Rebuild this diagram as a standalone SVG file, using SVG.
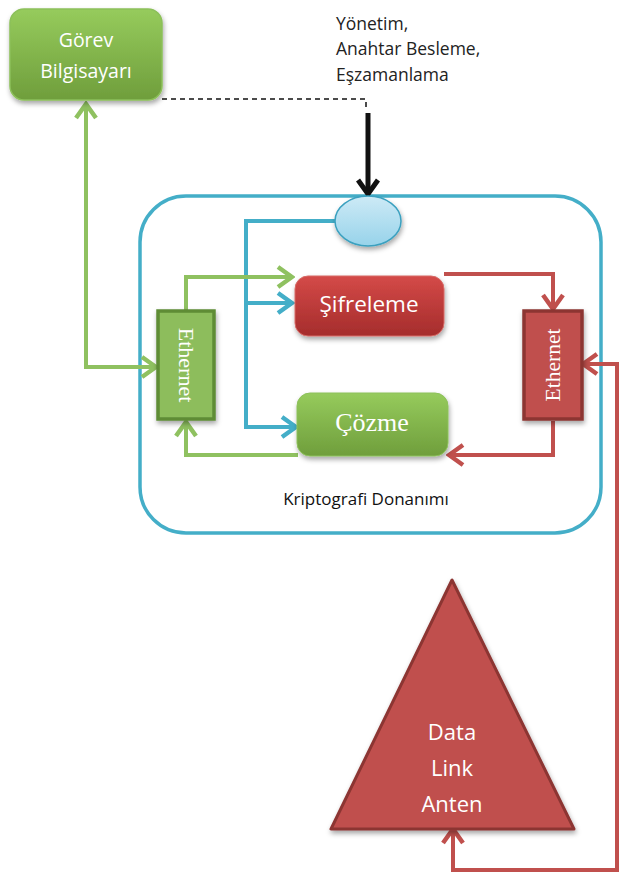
<svg xmlns="http://www.w3.org/2000/svg" width="621" height="880" viewBox="0 0 621 880">
<style>
.sans{font-family:"Open Sans","Noto Sans","Liberation Sans",sans-serif}
.serif{font-family:"Liberation Serif","DejaVu Serif",serif}
.wt{fill:#ffffff}
.g{stroke:#8fc160;stroke-width:4;fill:none}
.t{stroke:#44aec8;stroke-width:4;fill:none}
.r{stroke:#c0504d;stroke-width:4;fill:none}
</style>
<defs>
<linearGradient id="gg" x1="0" y1="0" x2="0" y2="1"><stop offset="0" stop-color="#96cb5c"/><stop offset="1" stop-color="#6f9e3c"/></linearGradient>
<linearGradient id="rg" x1="0" y1="0" x2="0" y2="1"><stop offset="0" stop-color="#d44a48"/><stop offset="1" stop-color="#a52c2c"/></linearGradient>
<linearGradient id="bg" x1="0" y1="0" x2="0" y2="1"><stop offset="0" stop-color="#cdeaf6"/><stop offset="1" stop-color="#97d3ea"/></linearGradient>
<filter id="sh" x="-20%" y="-20%" width="150%" height="150%"><feDropShadow dx="1" dy="3" stdDeviation="2.5" flood-color="#000" flood-opacity="0.35"/></filter>
<marker id="ag" viewBox="0 0 20 24" refX="17" refY="12" markerWidth="20" markerHeight="24" markerUnits="userSpaceOnUse" orient="auto-start-reverse"><path d="M3,2 L17,12 L3,22" fill="none" stroke="#8fc160" stroke-width="4.5"/></marker>
<marker id="at" viewBox="0 0 20 24" refX="17" refY="12" markerWidth="20" markerHeight="24" markerUnits="userSpaceOnUse" orient="auto-start-reverse"><path d="M3,2 L17,12 L3,22" fill="none" stroke="#44aec8" stroke-width="4.5"/></marker>
<marker id="ar" viewBox="0 0 20 24" refX="17" refY="12" markerWidth="20" markerHeight="24" markerUnits="userSpaceOnUse" orient="auto-start-reverse"><path d="M3,2 L17,12 L3,22" fill="none" stroke="#c0504d" stroke-width="4.5"/></marker>
<marker id="ab" viewBox="0 0 20 24" refX="17" refY="12" markerWidth="20" markerHeight="24" markerUnits="userSpaceOnUse" orient="auto"><path d="M3,2 L17,12 L3,22" fill="none" stroke="#111" stroke-width="5"/></marker>
</defs>

<g id="container">
<rect x="140" y="196" width="461" height="337" rx="46" fill="none" stroke="#44aec8" stroke-width="3.5"/>
<text x="366" y="505" class="sans" font-size="17" fill="#111" text-anchor="middle">Kriptografi Donanımı</text>
</g>

<g id="connectors">
<polyline points="162,99 366,99 366,110" fill="none" stroke="#111" stroke-width="1.5" stroke-dasharray="5,4"/>
<line x1="368" y1="113" x2="368" y2="194" stroke="#111" stroke-width="5" marker-end="url(#ab)"/>
<polyline class="t" points="335,221 246,221 246,427 296,427" marker-end="url(#at)"/>
<polyline class="t" points="246,303 292,303" marker-end="url(#at)"/>
<polyline class="g" points="186,310 186,277 292,277" marker-end="url(#ag)"/>
<polyline class="g" points="86,104 86,367 156,367" marker-end="url(#ag)" marker-start="url(#ag)"/>
<polyline class="g" points="298,455 186,455 186,422" marker-end="url(#ag)"/>
<polyline class="r" points="444,274 553,274 553,309" marker-end="url(#ar)"/>
<polyline class="r" points="553,421 553,455 449,455" marker-end="url(#ar)"/>
<polyline class="r" points="453,829 453,870 617,870 617,364 583,364" marker-start="url(#ar)" marker-end="url(#ar)"/>
</g>

<g id="gorev">
<rect x="10" y="9" width="152" height="91" rx="14" fill="url(#gg)" stroke="#8cc05a" stroke-width="1.5" filter="url(#sh)"/>
<text x="86" y="47" class="sans wt" font-size="19.5" text-anchor="middle">Görev</text>
<text x="86" y="78" class="sans wt" font-size="19.5" text-anchor="middle">Bilgisayarı</text>
</g>

<g id="label-yonetim" class="sans" font-size="17.5" fill="#222">
<text x="336" y="30">Yönetim,</text>
<text x="336" y="55">Anahtar Besleme,</text>
<text x="336" y="81">Eşzamanlama</text>
</g>

<g id="ellipse">
<ellipse cx="368" cy="221" rx="33" ry="25" fill="url(#bg)" stroke="#3aa0bf" stroke-width="1.5" filter="url(#sh)"/>
</g>

<g id="eth-left">
<rect x="158" y="311" width="56" height="108" fill="#8dbd5b" stroke="#5e8c36" stroke-width="3.5" filter="url(#sh)"/>
<text transform="translate(179,365) rotate(90)" class="serif wt" font-size="22" text-anchor="middle">Ethernet</text>
</g>

<g id="sifreleme">
<rect x="295" y="276" width="149" height="60" rx="13" fill="url(#rg)" stroke="#d66a66" stroke-width="1" filter="url(#sh)"/>
<text x="369" y="312" class="sans wt" font-size="22.5" text-anchor="middle">Şifreleme</text>
</g>

<g id="cozme">
<rect x="297" y="393" width="151" height="63" rx="13" fill="url(#gg)" stroke="#8cc05a" stroke-width="1" filter="url(#sh)"/>
<text x="372" y="431" class="serif wt" font-size="26" text-anchor="middle">Çözme</text>
</g>

<g id="eth-right">
<rect x="524" y="311" width="58" height="108" fill="#c0504d" stroke="#8c3533" stroke-width="3.5" filter="url(#sh)"/>
<text transform="translate(560,365) rotate(-90)" class="serif wt" font-size="21.5" text-anchor="middle">Ethernet</text>
</g>

<g id="anten">
<polygon points="452,580 331,829 574,829" fill="#c0504d" stroke="#8c3533" stroke-width="3" stroke-linejoin="round" filter="url(#sh)"/>
<text x="452" y="740" class="sans wt" font-size="22" text-anchor="middle">Data</text>
<text x="452" y="776" class="sans wt" font-size="22" text-anchor="middle">Link</text>
<text x="452" y="812" class="sans wt" font-size="22" text-anchor="middle">Anten</text>
</g>
</svg>
